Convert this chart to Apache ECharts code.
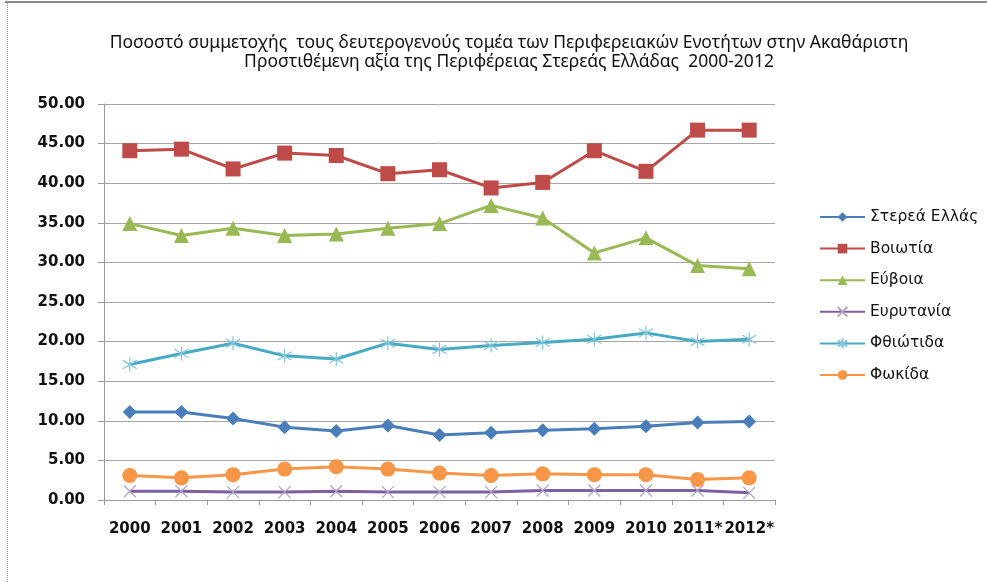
<!DOCTYPE html>
<html>
<head>
<meta charset="utf-8">
<script src="https://cdn.jsdelivr.net/npm/echarts@6/dist/echarts.min.js"></script>
<style>
  html, body { margin: 0; padding: 0; background: #fff; }
  #chart { width: 987px; height: 582px; }
  .frame-top { position: absolute; left: 5px; top: 1px; width: 982px; height: 2px; background: #8a8a8a; }
  .frame-left { position: absolute; left: 7px; top: 3px; width: 0; height: 579px; border-left: 1px dotted #999; }
</style>
</head>
<body>
<div id="chart"></div>
<div class="frame-top"></div>
<div class="frame-left"></div>
<script>
  // έτη
  var years = ['2000', '2001', '2002', '2003', '2004', '2005', '2006', '2007', '2008', '2009', '2010', '2011*', '2012*'];

  var stereaEllada = [11.1, 11.1, 10.3, 9.2, 8.7, 9.4, 8.2, 8.5, 8.8, 9.0, 9.3, 9.8, 9.9];
  var voiotia = [44.1, 44.3, 41.8, 43.8, 43.5, 41.2, 41.7, 39.4, 40.1, 44.1, 41.5, 46.7, 46.7];
  var evia = [34.9, 33.4, 34.3, 33.4, 33.6, 34.3, 34.9, 37.2, 35.6, 31.2, 33.1, 29.6, 29.2];
  var evrytania = [1.1, 1.1, 1.0, 1.0, 1.1, 1.0, 1.0, 1.0, 1.2, 1.2, 1.2, 1.2, 0.9];
  var fthiotida = [17.1, 18.5, 19.8, 18.2, 17.8, 19.8, 19.0, 19.5, 19.9, 20.3, 21.1, 20.0, 20.3];
  var fokida = [3.1, 2.8, 3.2, 3.9, 4.2, 3.9, 3.4, 3.1, 3.3, 3.2, 3.2, 2.6, 2.8];

  var crossPath = 'path://M0,0L10,10M10,0L0,10';
  var starPath = 'path://M5,0L5,10M0,2L10,8M10,2L0,8';

  var myChart = echarts.init(document.getElementById('chart'));

  function lineSeries(name, data, color, symbol, size, extra) {
    var s = {
      name: name,
      type: 'line',
      data: data,
      symbol: symbol,
      symbolSize: size,
      color: color,
      lineStyle: { color: color, width: 3 },
      itemStyle: { color: color },
      emphasis: { disabled: true }
    };
    if (extra) {
      s.itemStyle = extra;
    }
    return s;
  }

  var option = {
    animation: false,
    textStyle: { fontFamily: 'DejaVu Sans' },
    title: {
      text: 'Ποσοστό συμμετοχής  τους δευτερογενούς τομέα των Περιφερειακών Ενοτήτων στην Ακαθάριστη\nΠροστιθέμενη αξία της Περιφέρειας Στερεάς Ελλάδας  2000-2012',
      left: 504,
      textAlign: 'center',
      top: 29,
      textStyle: {
        fontFamily: 'Noto Sans',
        fontSize: 17.5,
        fontWeight: 'normal',
        color: '#111',
        lineHeight: 19
      }
    },
    legend: {
      orient: 'vertical',
      left: 819,
      top: 209,
      padding: 0,
      itemWidth: 45,
      itemHeight: 12,
      itemGap: 15.6,
      textStyle: { fontFamily: 'DejaVu Sans', fontSize: 15.5, color: '#111' },
      data: ['Στερεά Ελλάς', 'Βοιωτία', 'Εύβοια', 'Ευρυτανία', 'Φθιώτιδα', 'Φωκίδα']
    },
    grid: {
      left: 104,
      right: 212,
      top: 104,
      bottom: 82
    },
    xAxis: {
      type: 'category',
      data: years,
      boundaryGap: true,
      axisLine: { lineStyle: { color: '#999' } },
      axisTick: { show: true, length: 5, lineStyle: { color: '#999' } },
      axisLabel: {
        fontFamily: 'DejaVu Sans',
        fontSize: 15,
        fontWeight: 'bold',
        color: '#111',
        margin: 22,
        interval: 0
      }
    },
    yAxis: {
      type: 'value',
      min: 0,
      max: 50,
      interval: 5,
      axisLine: { show: true, lineStyle: { color: '#999' } },
      axisTick: { show: true, length: 6, lineStyle: { color: '#999' } },
      splitLine: { lineStyle: { color: '#a6a6a6' } },
      axisLabel: {
        fontFamily: 'DejaVu Sans',
        fontSize: 15,
        fontWeight: 'bold',
        color: '#111',
        margin: 19,
        formatter: function (v) { return v.toFixed(2); }
      }
    },
    series: [
      lineSeries('Στερεά Ελλάς', stereaEllada, '#4A7EBB', 'diamond', 14),
      lineSeries('Βοιωτία', voiotia, '#BE4B48', 'rect', 15),
      lineSeries('Εύβοια', evia, '#98B954', 'triangle', 15),
      lineSeries('Ευρυτανία', evrytania, '#7D60A0', crossPath, 12,
        { color: '#7D60A0', borderColor: '#B3A2C7', borderWidth: 1.2 }),
      lineSeries('Φθιώτιδα', fthiotida, '#46AAC5', starPath, 14,
        { color: '#46AAC5', borderColor: '#7FC6DA', borderWidth: 1.2 }),
      lineSeries('Φωκίδα', fokida, '#F79646', 'circle', 15)
    ]
  };

  myChart.setOption(option);
  window.addEventListener('resize', function () {
    myChart.resize();
  });
</script>
</body>
</html>
